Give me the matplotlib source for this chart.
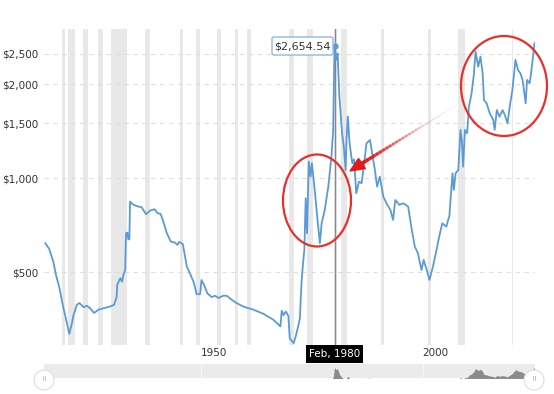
import matplotlib.pyplot as plt
import matplotlib.ticker as mticker
from matplotlib.patches import Ellipse, Polygon, Circle, FancyBboxPatch
from matplotlib.collections import LineCollection
from matplotlib.transforms import ScaledTranslation

years = [1914.9, 1915.8, 1916.7, 1917.3, 1918.1, 1918.9, 1919.4, 1920.3, 1920.9, 1921.2,
         1922.0, 1922.6, 1923.5, 1924.3, 1925.0, 1925.9, 1926.9, 1928.0, 1929.5, 1930.4,
         1931.0, 1931.1, 1931.8, 1932.2, 1932.5, 1932.9, 1933.1, 1933.4, 1933.6, 1933.85,
         1934.0, 1934.8, 1935.9, 1936.6, 1937.6, 1938.5, 1939.5, 1940.2, 1940.9, 1941.5,
         1942.3, 1943.2, 1944.1, 1944.7, 1945.1, 1945.9, 1946.8, 1947.5, 1948.3, 1948.6,
         1949.0, 1949.8, 1950.1, 1950.7, 1951.4, 1952.4, 1953.2, 1953.9, 1955.0, 1955.8,
         1956.9, 1958.0, 1959.5, 1961.8, 1964.0, 1966.3, 1967.9, 1968.2, 1968.6, 1969.1,
         1969.7, 1970.0, 1970.9, 1971.4, 1971.9, 1972.3, 1972.5, 1972.7, 1973.0, 1973.3,
         1973.6, 1973.9, 1974.3, 1974.7, 1975.0, 1975.7, 1976.2, 1976.8, 1977.2, 1977.9,
         1978.7, 1979.4, 1979.8, 1980.1, 1980.5, 1980.8, 1981.2, 1981.8, 1982.2, 1982.6,
         1982.8, 1983.1, 1983.5, 1984.1, 1984.5, 1985.0, 1985.6, 1986.2, 1986.7, 1987.3,
         1988.1, 1988.7, 1989.2, 1989.7, 1990.3, 1991.1, 1992.0, 1992.7, 1993.3, 1993.8,
         1994.7, 1995.6, 1996.7, 1997.4, 1998.2, 1998.9, 1999.7, 2000.2, 2000.9, 2001.5,
         2002.3, 2003.1, 2003.7, 2004.4, 2005.3, 2006.0, 2006.7, 2007.0, 2007.4, 2008.0,
         2008.5, 2008.8, 2009.1, 2009.5, 2010.0, 2010.4, 2011.0, 2011.5, 2011.9, 2012.5,
         2013.0, 2013.5, 2013.8, 2014.4, 2015.1, 2015.9, 2016.2, 2016.7, 2017.3, 2018.0,
         2018.5, 2019.1, 2019.6, 2020.2, 2020.9, 2021.5, 2022.0, 2022.5, 2023.2, 2023.5,
         2024.1, 2024.5, 2025.2]
prices = [620, 593, 541, 491, 445, 389, 363, 318, 344, 363,
          394, 399, 387, 391, 384, 371, 380, 384, 389, 394,
          418, 456, 479, 467, 491, 509, 667, 670, 638, 638,
          842, 822, 812, 808, 767, 788, 796, 773, 769, 727,
          667, 627, 623, 612, 626, 616, 522, 497, 467, 451,
          426, 426, 473, 456, 429, 417, 421, 414, 421, 421,
          409, 399, 389, 380, 369, 353, 336, 377, 365, 375,
          363, 308, 297, 314, 336, 357, 418, 473, 535, 590,
          863, 667, 1130, 1012, 1117, 896, 754, 620, 718, 792,
          940, 1172, 1427, 2654.54, 2390, 2506, 1822, 1393, 1262, 1063,
          1325, 1574, 1293, 1117, 1150, 896, 975, 964, 1089, 1293,
          1325, 1172, 1063, 940, 1012, 873, 822, 792, 736, 852,
          822, 832, 812, 700, 605, 576, 509, 548, 509, 473,
          522, 590, 651, 718, 700, 760, 1037, 918, 1037, 1063,
          1427, 1325, 1089, 1427, 1393, 1693, 1868, 2138, 2538, 2273,
          2448, 2165, 1778, 1736, 1613, 1535, 1427, 1652, 1573, 1652,
          1592, 1498, 1693, 1914, 2390, 2216, 2165, 2062, 1736, 2062,
          2012, 2216, 2702]

recessions = [(1918.67, 1919.25), (1920.08, 1921.5), (1923.42, 1924.58), (1926.83, 1927.92),
              (1929.67, 1933.25), (1937.42, 1938.5), (1945.17, 1945.83), (1948.92, 1949.83),
              (1953.58, 1954.42), (1957.67, 1958.33), (1960.33, 1961.17), (1969.92, 1970.92),
              (1973.92, 1975.25), (1980.08, 1980.58), (1981.58, 1982.92), (1990.58, 1991.25),
              (2001.25, 2001.92), (2007.92, 2009.5), (2020.17, 2020.33)]

yticks = [500, 1000, 1500, 2000, 2500]
ytick_labels = ['$500', '$1,000', '$1,500', '$2,000', '$2,500']
xticks = [1950, 2000]
xtick_labels = ['1950', '2000']

peak_year = 1980.1
peak_price = 2654.54
peak_label = '$2,654.54'
peak_date = 'Feb, 1980'

line_color = '#5b9bd5'
W, H = 554, 394

plt.rcParams['font.family'] = 'DejaVu Sans'
plt.rcParams['font.size'] = 7.5

fig = plt.figure(figsize=(W / 100, H / 100), dpi=100)
ax = fig.add_axes([44 / W, (H - 345) / H, 491 / W, 316 / H])
ax.set_yscale('log')
ax.set_xlim(1914.6, 2025.3)
ax.set_ylim(293, 3000)

for a, b in recessions:
    ax.axvspan(a, b, color='#e8e8e8', lw=0, zorder=0)

ax.set_yticks(yticks)
ax.set_yticklabels(ytick_labels)
ax.yaxis.set_minor_locator(mticker.NullLocator())
ax.set_xticks([])
ax.tick_params(length=0, colors='#333333', labelsize=7.5)
ax.tick_params(axis='y', pad=4)
# highcharts puts the year labels a bit right of the tick
xlab_tr = ax.get_xaxis_transform() + ScaledTranslation(0.13, -0.03, fig.dpi_scale_trans)
for x, lab in zip(xticks, xtick_labels):
    ax.text(x, 0, lab, transform=xlab_tr, ha='center', va='top', fontsize=7.5, color='#333333')
ax.grid(axis='y', color='#dddddd', ls=(0, (4, 4)), lw=0.8)
ax.set_axisbelow(True)
for s in ax.spines.values():
    s.set_visible(False)

ax.axvline(peak_year, color='#888888', lw=0.9, zorder=2)
ax.plot(years, prices, color=line_color, lw=1.3, zorder=3)
ax.plot([peak_year], [peak_price], 'o', color=line_color, ms=3.5, zorder=4)

# navigator strip
nav = fig.add_axes([44 / W, (H - 378) / H, 491 / W, 14 / H])
nav.set_facecolor('#ebebeb')
nav.set_xlim(1914.6, 2025.3)
nav.set_ylim(1350, 3100)
nav.fill_between(years, prices, 0, color='#8c8c8c', lw=0)
for x in xticks:
    nav.axvline(x, color='#f7f7f7', lw=0.8)
nav.set_xticks([])
nav.set_yticks([])
for s in nav.spines.values():
    s.set_visible(False)

# overlay in pixel coords
ov = fig.add_axes([0, 0, 1, 1])
ov.set_xlim(0, W)
ov.set_ylim(H, 0)
ov.axis('off')

ov.add_patch(Ellipse((317, 200.5), 68, 92, fill=False, ec='#e8302a', lw=1.6))
ov.add_patch(Ellipse((504, 86), 86, 100, fill=False, ec='#e8302a', lw=1.6))

tail = (458, 104)
tip = (350, 171)
n = 30
segs = []
alphas = []
widths = []
for i in range(n):
    t0 = i / n
    t1 = (i + 1) / n
    x0 = tail[0] + (361 - tail[0]) * t0
    y0 = tail[1] + (164 - tail[1]) * t0
    x1 = tail[0] + (361 - tail[0]) * t1
    y1 = tail[1] + (164 - tail[1]) * t1
    segs.append([(x0, y0), (x1, y1)])
    alphas.append(0.05 + 0.95 * t1 ** 2)
    widths.append(0.4 + 2.2 * t1)
cols = [(0.9, 0.1, 0.1, a) for a in alphas]
ov.add_collection(LineCollection(segs, colors=cols, linewidths=widths, capstyle='round'))
ov.add_patch(Polygon([tip, (365.5, 168.5), (358.5, 158.5)], closed=True, color='#e01b1b'))

ov.add_patch(FancyBboxPatch((272, 37), 61, 18, boxstyle='round,pad=0,rounding_size=2',
                            fc='white', ec='#8fb8de', lw=1))
ov.text(302.5, 46.5, peak_label, ha='center', va='center', fontsize=8, color='#333333')

ov.add_patch(FancyBboxPatch((306, 345), 57, 18, boxstyle='square,pad=0', fc='black', ec='none'))
ov.text(334.5, 354, peak_date, ha='center', va='center', fontsize=7.5, color='white')

for cx in (44, 534):
    ov.add_patch(Circle((cx, 380), 10, fc='white', ec='#dddddd', lw=0.8))
    ov.plot([cx - 1.2, cx - 1.2], [376, 380], color='#bbbbbb', lw=0.6)
    ov.plot([cx + 1.2, cx + 1.2], [376, 380], color='#bbbbbb', lw=0.6)

plt.savefig('out.png', dpi=100)
